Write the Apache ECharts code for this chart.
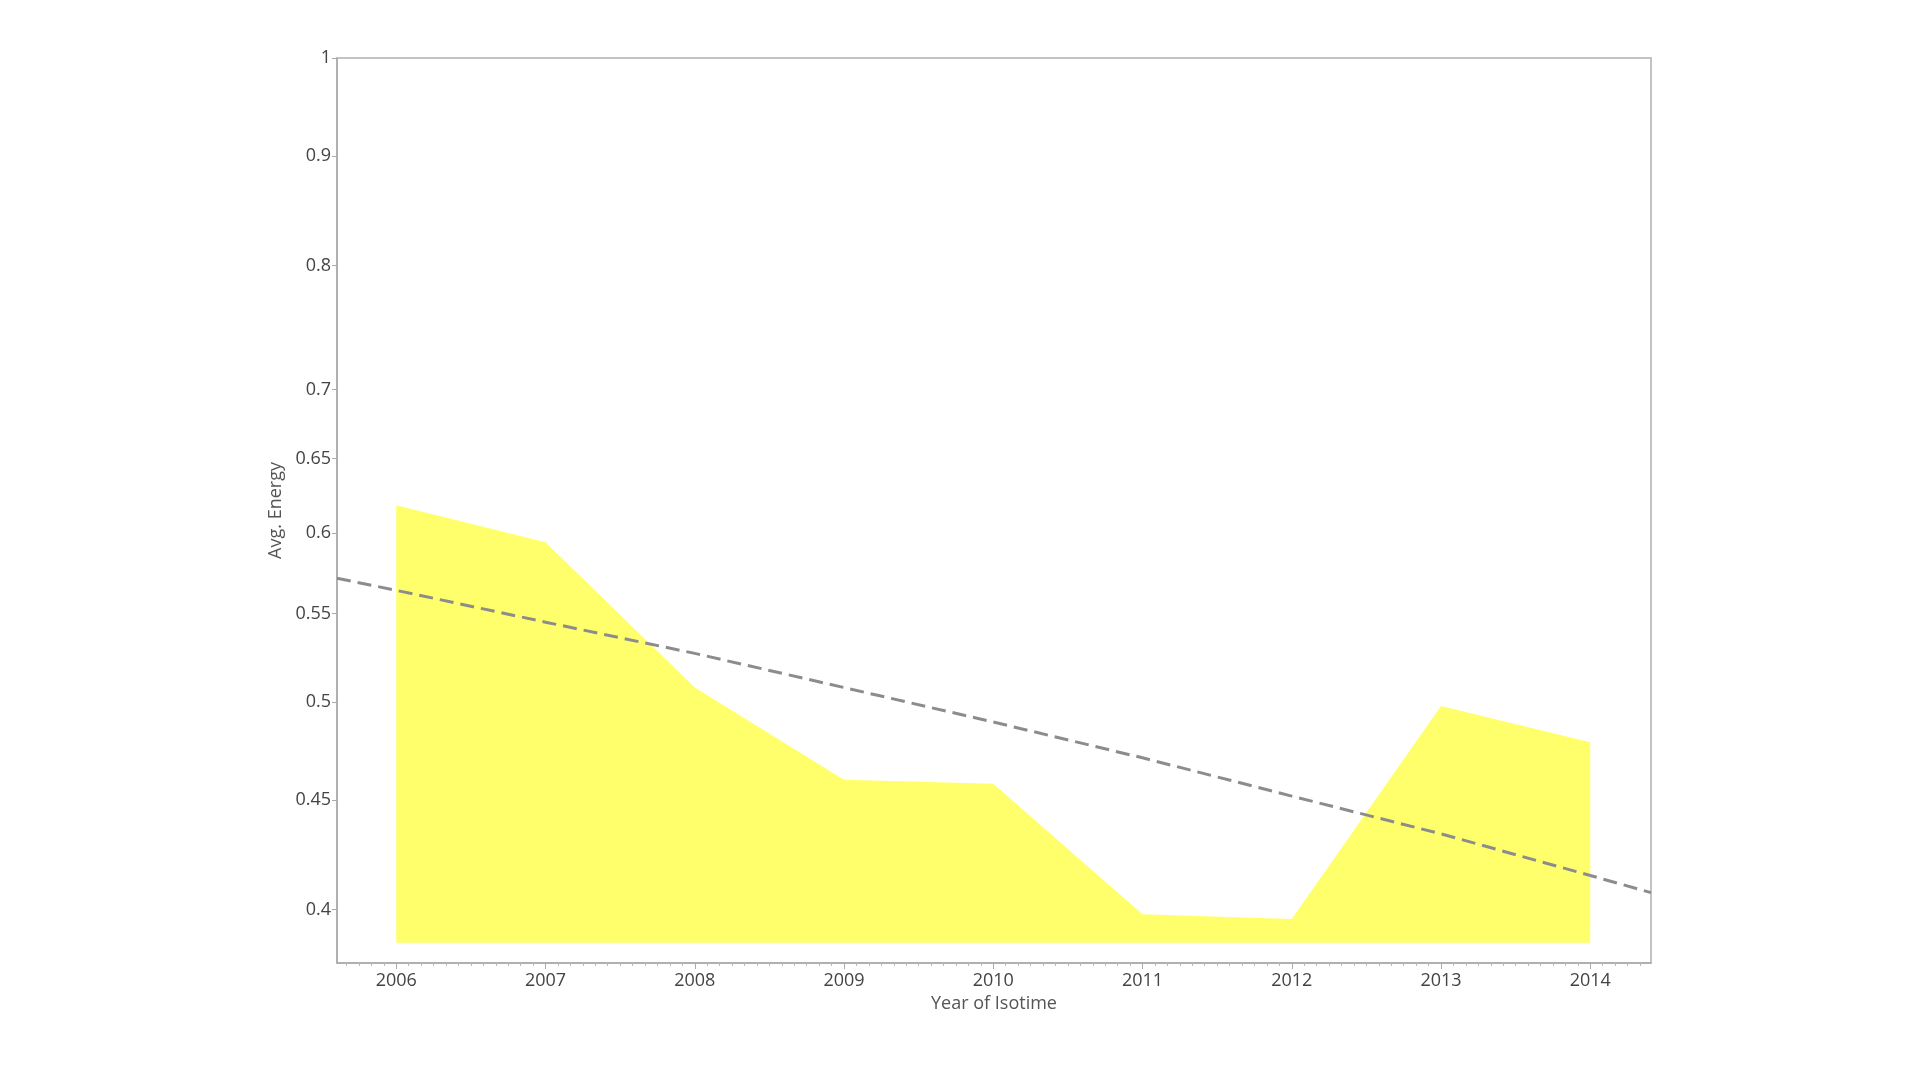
<!DOCTYPE html>
<html>
<head>
<meta charset="utf-8">
<script src="https://cdn.jsdelivr.net/npm/echarts@6/dist/echarts.min.js"></script>
<style>
html,body{margin:0;padding:0;background:#fff;}
#chart{width:1920px;height:1080px;}
</style>
</head>
<body>
<div id="chart"></div>
<script>
const years = [2006, 2007, 2008, 2009, 2010, 2011, 2012, 2013, 2014];
const avgEnergy = [0.618, 0.594, 0.508, 0.460, 0.458, 0.398, 0.396, 0.498, 0.479];
const areaBase = 0.386;
// trend line at the plot edges and at each year
const trendX = [2005.603, 2006, 2007, 2008, 2009, 2010, 2011, 2012, 2013, 2014, 2014.407];
const trendY = [0.5714, 0.564, 0.545, 0.527, 0.508, 0.4895, 0.471, 0.452, 0.434, 0.415, 0.4074];
const yTicks = [0.4, 0.45, 0.5, 0.55, 0.6, 0.65, 0.7, 0.8, 0.9, 1];
const xRange = [2005.603, 2014.407];
const yRange = [0.3777, 1];

const monthTicks = [];
for (let y = 2005; y <= 2015; y++) {
  for (let m = 1; m < 12; m++) {
    const v = y + m / 12;
    if (v >= xRange[0] && v <= xRange[1]) monthTicks.push(v);
  }
}

const chart = echarts.init(document.getElementById('chart'));
const font = '"Open Sans", Lato, sans-serif';
chart.setOption({
  animation: false,
  backgroundColor: '#fff',
  grid: {
    left: 337, right: 269, top: 58, bottom: 117,
    show: true, borderColor: '#b0b0b0', borderWidth: 1.5, containLabel: false
  },
  xAxis: [{
    type: 'value',
    min: xRange[0], max: xRange[1],
    name: 'Year of Isotime',
    nameLocation: 'middle', nameGap: 32,
    nameTextStyle: {fontFamily: font, fontSize: 18, color: '#555'},
    axisLine: {show: true, lineStyle: {color: '#aaa', width: 1.5}},
    axisTick: {show: true, customValues: years, length: 6, lineStyle: {color: '#aaa'}},
    axisLabel: {customValues: years, fontFamily: font, fontSize: 18, color: '#444', margin: 9,
      formatter: v => String(Math.round(v))},
    splitLine: {show: false}
  }, {
    type: 'value',
    position: 'bottom',
    min: xRange[0], max: xRange[1],
    axisLine: {show: false},
    axisTick: {show: true, customValues: monthTicks, length: 3, lineStyle: {color: '#bbb'}},
    axisLabel: {show: false, customValues: monthTicks},
    splitLine: {show: false}
  }],
  yAxis: {
    type: 'log', logBase: 10,
    min: yRange[0], max: yRange[1],
    name: 'Avg. Energy',
    nameLocation: 'middle', nameGap: 50,
    nameTextStyle: {fontFamily: font, fontSize: 18, color: '#555'},
    axisLine: {show: true, lineStyle: {color: '#aaa', width: 1.5}},
    axisTick: {show: true, customValues: yTicks, length: 5, lineStyle: {color: '#aaa'}},
    axisLabel: {customValues: yTicks, fontFamily: font, fontSize: 18, color: '#444', margin: 6,
      formatter: v => String(+v.toFixed(2))},
    splitLine: {show: false}
  },
  series: [
    {
      type: 'line',
      xAxisIndex: 0,
      data: years.map((y, i) => [y, avgEnergy[i]]),
      symbol: 'none',
      lineStyle: {width: 0},
      areaStyle: {color: '#FFFF6B', opacity: 1, origin: areaBase},
      z: 1
    },
    {
      type: 'line',
      xAxisIndex: 0,
      data: trendX.map((x, i) => [x, trendY[i]]),
      symbol: 'none',
      lineStyle: {color: '#8c8c8c', width: 3, type: [14, 7]},
      z: 2
    }
  ]
});
</script>
</body>
</html>
